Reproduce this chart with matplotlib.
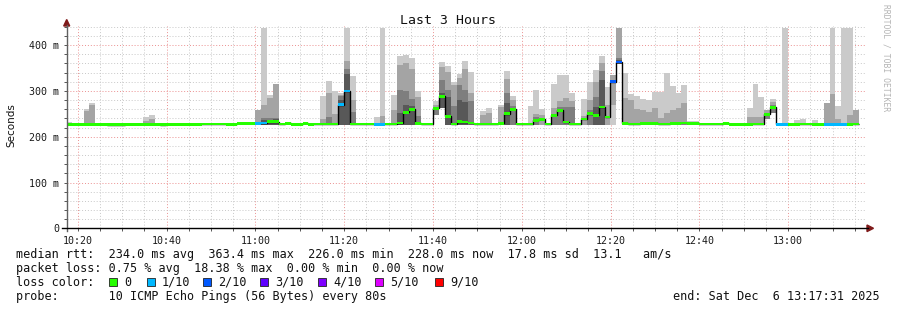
import numpy as np
import matplotlib
matplotlib.use("Agg")
import matplotlib.pyplot as plt
from matplotlib.patches import Rectangle, Polygon
from matplotlib.lines import Line2D

N = None
# ---------------- data (ms) : one value per 80 s step ----------------
first_step = "10:17:18"      # start of first (partial) step
step_seconds = 80
x_start, x_end = "10:17:31", "13:17:31"
MIN_RTT = 226.0

med = [227,227,227,227,227,227,227,226,226,226,
       227,227,227,227,227,227,226,227,227,227,
       227,227,227,228,228,228,228,227,227,229,
       229,229,229,230,233,233,228,229,227,227,
       229,227,228,228,228,228,270,300,228,228,
       228,228,227,227,228,228,230,253,260,229,
       228,228,262,288,245,228,233,232,230,228,
       228,228,228,229,250,260,228,228,228,236,
       238,228,247,258,232,228,228,239,250,247,
       265,243,320,363,229,228,228,229,229,229,
       228,228,229,229,230,229,229,228,228,228,
       228,229,227,227,227,227,228,228,249,264,
       227,227,227,227,228,228,227,227,227,227,
       227,227,227,228]

loss = [0,0,0,0,0,0,0,0,0,0,
        0,0,0,0,0,0,0,0,0,0,
        0,0,0,0,0,0,0,0,0,0,
        0,0,1,1,0,0,0,0,0,0,
        0,0,0,0,0,0,1,1,0,0,
        0,0,1,1,0,0,0,0,0,0,
        0,0,0,0,0,0,0,0,0,0,
        0,0,0,0,0,0,0,0,0,0,
        0,0,0,0,0,0,0,0,0,0,
        0,0,2,2,0,0,0,0,0,0,
        0,0,0,0,0,0,0,0,0,0,
        0,0,0,0,0,0,0,0,0,0,
        1,1,0,0,0,0,0,0,1,1,
        1,1,0,0]

# smoke: top of outer (lightest) band .. inner bands
hi1 = [232,N,N,260,273,N,N,N,N,N,
       N,N,N,243,247,N,N,N,N,N,
       N,N,231,N,N,231,231,N,N,N,
       N,N,259,437,292,316,N,N,N,N,
       N,N,N,289,322,300,296,437,333,N,
       N,230,243,437,N,291,377,379,372,300,
       N,N,279,363,355,320,338,366,342,N,
       257,263,N,270,343,289,N,N,267,303,
       260,N,316,335,335,296,N,282,319,345,
       376,309,335,437,339,294,289,282,280,297,
       297,340,311,296,313,234,234,N,N,230,
       N,N,N,230,N,262,315,286,258,282,
       N,437,N,236,239,N,236,N,274,437,
       267,437,437,258]

hi2 = [N,N,N,256,269,N,N,N,N,N,
       N,N,N,234,239,N,N,N,N,N,
       N,N,N,N,N,N,N,N,N,N,
       N,N,259,270,284,316,N,N,N,N,
       N,N,N,239,296,250,292,365,280,N,
       N,N,N,245,N,258,357,361,347,286,
       N,N,270,352,342,313,328,347,295,N,
       247,251,N,264,326,280,N,N,N,250,
       247,N,262,279,284,277,N,245,280,320,
       360,270,335,437,285,280,260,258,253,262,
       240,251,258,263,273,N,N,N,N,N,
       N,N,N,N,N,243,243,243,258,275,
       N,N,N,N,N,N,N,N,274,293,
       238,230,247,258]

hi3 = [N,N,N,N,N,N,N,N,N,N,
       N,N,N,N,N,N,N,N,N,N,
       N,N,N,N,N,N,N,N,N,N,
       N,N,N,240,240,242,N,N,N,N,
       N,N,N,N,244,N,288,349,254,N,
       N,N,N,N,N,N,302,299,283,245,
       N,N,266,324,302,267,313,302,278,N,
       N,N,N,N,295,267,N,N,N,244,
       N,N,250,266,264,264,N,N,258,287,
       343,N,N,372,N,N,N,232,N,N,
       N,N,N,N,N,N,N,N,N,N,
       N,N,N,N,N,N,N,N,252,269,
       N,N,N,N,N,N,N,N,N,N,
       N,N,N,N]

hi4 = [N,N,N,N,N,N,N,N,N,N,
       N,N,N,N,N,N,N,N,N,N,
       N,N,N,N,N,N,N,N,N,N,
       N,N,N,236,236,238,N,N,N,N,
       N,N,N,N,N,N,280,337,N,N,
       N,N,N,N,N,N,251,270,268,N,
       N,N,N,295,287,N,280,276,N,N,
       N,N,N,N,273,N,N,N,N,N,
       N,N,N,N,N,N,N,N,N,266,
       324,N,N,368,N,N,N,N,N,N,
       N,N,N,N,N,N,N,N,N,N,
       N,N,N,N,N,N,N,N,N,N,
       N,N,N,N,N,N,N,N,N,N,
       N,N,N,N]

# bottom of smoke (lowest ping) and of the inner bands
lo1 = [N]*134
lo2 = [N]*134
for j, v in {59: 248, 60: 262, 90: 358, 115: 238, 116: 251}.items():
    lo1[j + 3] = v
lo2[89 + 3] = 269

x_ticks = ["10:20", "10:40", "11:00", "11:20", "11:40", "12:00",
           "12:20", "12:40", "13:00"]
y_ticks = [0, 100, 200, 300, 400]
y_labels = ["0", "100 m", "200 m", "300 m", "400 m"]

loss_colors = {0: "#26ff00", 1: "#00b8ff", 2: "#0059ff", 3: "#5e00ff",
               4: "#7e00ff", 5: "#dd00ff", 9: "#ff0000"}
smoke_colors = ["#cacaca", "#a4a4a4", "#7e7e7e", "#585858"]

legend_lines = [
    "median rtt:  234.0 ms avg  363.4 ms max  226.0 ms min  228.0 ms now  17.8 ms sd  13.1   am/s",
    "packet loss: 0.75 % avg  18.38 % max  0.00 % min  0.00 % now",
    "loss color:",
    "probe:       10 ICMP Echo Pings (56 Bytes) every 80s",
]
loss_labels = ["0", "1/10", "2/10", "3/10", "4/10", "5/10", "9/10"]
loss_keys = [0, 1, 2, 3, 4, 5, 9]

# ---------------- helpers ----------------
def tmin(s):
    h, m, sec = (int(p) for p in s.split(":"))
    return (h - 10) * 60 + m + sec / 60.0

W, H = 897, 310
fig = plt.figure(figsize=(W / 100, H / 100), dpi=100)
fig.patch.set_facecolor("white")
AX_L, AX_R, AX_B, AX_T = 66.7, 866.0, 228.3, 25.5
ax = fig.add_axes([AX_L / W, 1 - AX_B / H, (AX_R - AX_L) / W, (AX_B - AX_T) / H])
ax.set_facecolor("white")

n = len(med)
step = step_seconds / 60.0
edges = tmin(first_step) + np.arange(n + 1) * step
left = edges[:-1]
medA = np.array(med, dtype=float)
lo1A = np.array(lo1, dtype=float)
lo1A = np.where(np.isnan(lo1A), MIN_RTT, lo1A)
lo2A = np.array(lo2, dtype=float)
lo2A = np.where(np.isnan(lo2A), lo1A, lo2A)

for k, (arr, col) in enumerate(zip([hi1, hi2, hi3, hi4], smoke_colors)):
    h = np.array(arr, dtype=float)
    m = ~np.isnan(h)
    lo = lo1A if k == 0 else lo2A
    ax.bar(left[m], (h - lo)[m], bottom=lo[m], width=step, align="edge",
           color=col, linewidth=0, antialiased=False, zorder=2)

ax.stairs(medA, edges, baseline=None, color="black", linewidth=1.0, zorder=3)
SW = 6.0
ax.bar(left, np.full(n, SW), bottom=medA - SW / 2, width=step, align="edge",
       color=[loss_colors[l] for l in loss], linewidth=0, antialiased=False, zorder=4)

ax.set_xlim(tmin(x_start), tmin(x_end))
ax.set_ylim(0, 443)
ax.set_xticks([tmin(t + ":00") for t in x_ticks])
ax.set_xticklabels(x_ticks)
ax.set_xticks(np.arange(20, 196, 5), minor=True)
ax.set_yticks(y_ticks)
ax.set_yticklabels(y_labels)
ax.set_yticks(np.arange(20, 441, 20), minor=True)
ax.set_axisbelow(True)
ax.grid(which="minor", color="#c8c8c8", linestyle=(0, (1, 2)), linewidth=0.7)
ax.grid(which="major", color="#eb9090", linestyle=(0, (1, 2)), linewidth=0.7)
for s in ax.spines.values():
    s.set_visible(False)
ax.tick_params(which="both", length=2.5, width=0.7, color="#555555", pad=3,
               labelsize=7.2, labelcolor="#1a1a1a")
for lab in ax.get_xticklabels() + ax.get_yticklabels():
    lab.set_family("DejaVu Sans Mono")

def fx(px):
    return px / W
def fy(py):
    return 1 - py / H

# axes lines and arrows
fig.add_artist(Line2D([fx(AX_L), fx(AX_L)], [fy(231), fy(25)], color="#606060", lw=1.0))
fig.add_artist(Line2D([fx(62), fx(868)], [fy(AX_B), fy(AX_B)], color="black", lw=1.0))
fig.add_artist(Polygon([(fx(63.7), fy(26)), (fx(69.7), fy(26)), (fx(66.7), fy(19.5))],
                       closed=True, transform=fig.transFigure, color="#7f1a1a"))
fig.add_artist(Polygon([(fx(867), fy(225)), (fx(867), fy(231.6)), (fx(873.5), fy(AX_B))],
                       closed=True, transform=fig.transFigure, color="#7f1a1a"))

fig.text(fx(448), fy(20), "Last 3 Hours", family="DejaVu Sans Mono", size=9.5,
         ha="center", va="center", color="#111111")
fig.text(fx(11), fy(125), "Seconds", family="DejaVu Sans", size=7.5,
         rotation=90, ha="center", va="center", color="#111111")
fig.text(fx(886), fy(4), "RRDTOOL / TOBI OETIKER", family="DejaVu Sans Mono", size=5.8,
         rotation=270, ha="center", va="top", color="#b4b4b4")

rows_y = [254.3, 268.3, 282.3, 296.3]
for txt, yy in zip(legend_lines, rows_y):
    fig.text(fx(16), fy(yy), txt, family="DejaVu Sans Mono", size=8.5,
             ha="left", va="center", color="#111111")

sq_x = [109, 146.7, 203.3, 260.3, 318, 375.3, 435]
for sx, key, lab in zip(sq_x, loss_keys, loss_labels):
    fig.add_artist(Rectangle((fx(sx), fy(rows_y[2] + 4)), 8 / W, 8 / H,
                             transform=fig.transFigure, facecolor=loss_colors[key],
                             edgecolor="#222222", linewidth=0.6))
    fig.text(fx(sx + 15), fy(rows_y[2]), lab, family="DejaVu Sans Mono", size=8.5,
             ha="left", va="center", color="#111111")

fig.text(fx(880), fy(rows_y[3]), "end: Sat Dec  6 13:17:31 2025",
         family="DejaVu Sans Mono", size=8.5, ha="right", va="center", color="#111111")

fig.savefig("out.png", dpi=100, facecolor="white")
